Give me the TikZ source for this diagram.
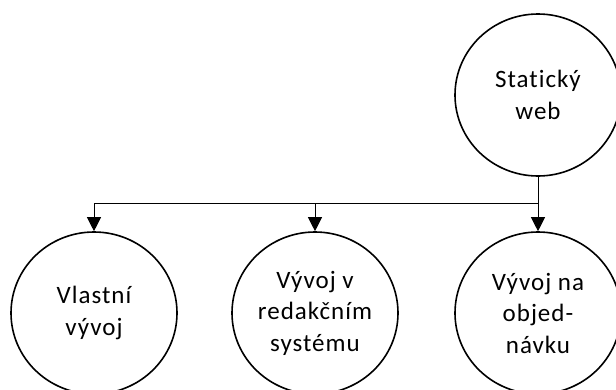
\documentclass[tikz,border=0pt]{standalone}
\usepackage{fontspec}
\setmainfont{Carlito}[LetterSpace=4,Ligatures={NoCommon}]
\usetikzlibrary{arrows.meta,shapes.geometric}
\begin{document}
\begin{tikzpicture}[x=1pt,y=-1pt,
  bubble/.style={ellipse,draw,line width=1.6pt,minimum width=166pt,minimum height=162pt,
    inner sep=0pt,align=center,font=\fontsize{25}{31.5}\selectfont},
  link/.style={line width=1pt},
  arrowlink/.style={link,-{Triangle[length=14pt,width=14pt]}}]
\useasboundingbox (0,0) rectangle (616,389);
\node[bubble] (web) at (538,95) {Statický\\web};
\node[bubble] (own) at (94,313) {Vlastní\\vývoj};
\node[bubble] (cms) at (315,313) {Vývoj v\\redakčním\\systému};
\node[bubble] (order) at (538,313) {Vývoj na\\objed-\\návku};
\coordinate (bus) at (538,203.5);
\draw[link] (web.south) -- (bus);
\draw[arrowlink] (bus) -| (own.north);
\draw[arrowlink] (bus) -| (cms.north);
\draw[arrowlink] (bus) -- (order.north);
\end{tikzpicture}
\end{document}
